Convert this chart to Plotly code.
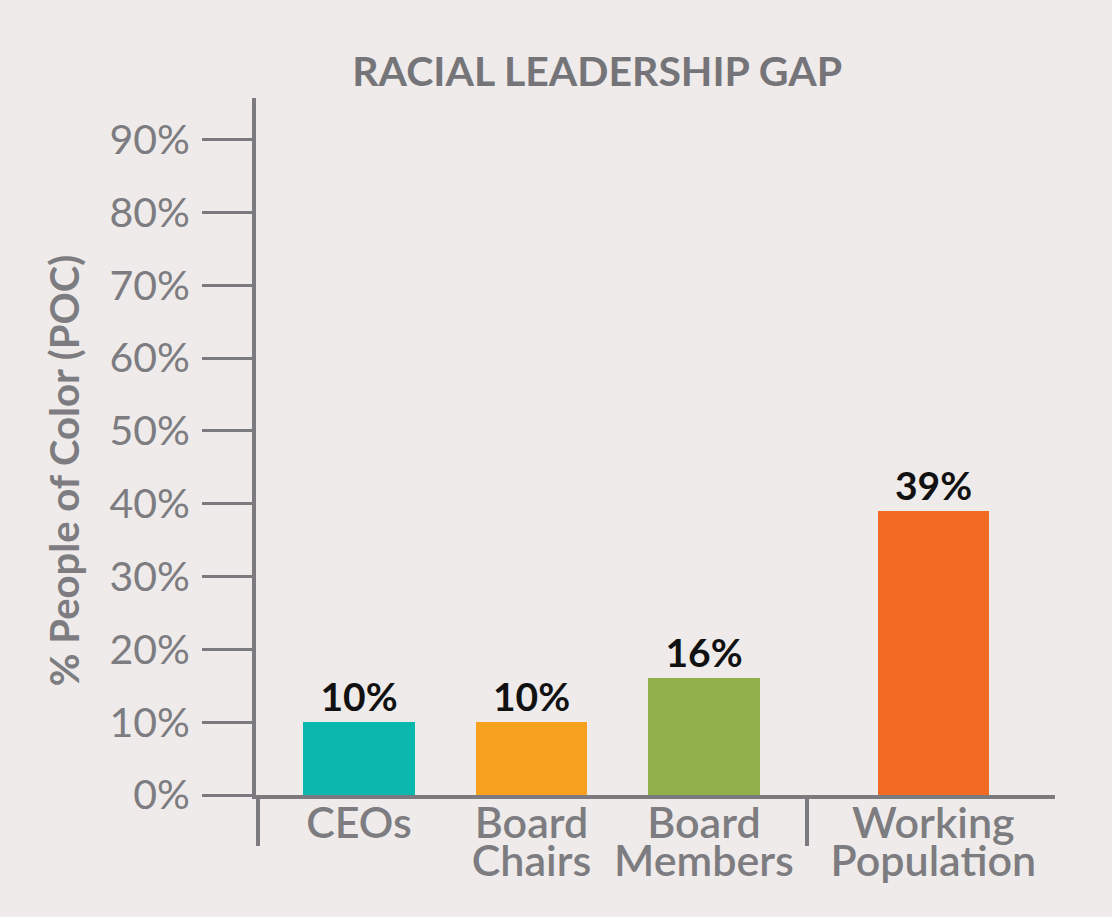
import plotly.graph_objects as go

# ---- data ----
categories = ["CEOs", "Board Chairs", "Board Members", "Working Population"]
values = [10, 10, 16, 39]
value_labels = ["10%", "10%", "16%", "39%"]
y_ticks = [0, 10, 20, 30, 40, 50, 60, 70, 80, 90]
y_tick_labels = [f"{v}%" for v in y_ticks]
y_title = "% People of Color (POC)"
chart_title = "RACIAL LEADERSHIP GAP"

# ---- layout helpers (positions / styles) ----
x_pos = [0, 1, 2, 3.33]
group_bounds = [-0.585, 2.6]
bar_colors = ["#0BB8AE", "#F8A11E", "#8FB04A", "#F26B22"]
line1 = [c.split(" ")[0] for c in categories]
line2 = [c.split(" ")[1] if " " in c else "" for c in categories]

BG = "#EEEBEA"
AX = "#7B7A7E"
TXT = "#7D7C80"
FONT = "Lato"
x_range = [-0.597, 4.035]

fig = go.Figure()
fig.add_trace(go.Bar(
    x=x_pos, y=values, width=0.645,
    marker=dict(color=bar_colors, line=dict(width=0)),
    text=value_labels, textposition="outside",
    textfont=dict(family=FONT, size=39, color="#111111", weight=700),
    cliponaxis=False, hoverinfo="skip",
))
# invisible anchors for overlay axes
fig.add_trace(go.Scatter(x=x_pos, y=values, mode="none", xaxis="x2", hoverinfo="skip", showlegend=False))
fig.add_trace(go.Scatter(x=group_bounds, y=[0, 0], mode="none", xaxis="x3", hoverinfo="skip", showlegend=False))

common_x = dict(range=x_range, showgrid=False, zeroline=False, fixedrange=True)

fig.update_layout(
    width=1112, height=917,
    paper_bgcolor=BG, plot_bgcolor=BG,
    margin=dict(l=256, r=57, t=98, b=122),
    showlegend=False,
    bargap=0,
    title=dict(text=chart_title, x=0.537, xanchor="center",
               y=0.922, yref="container", yanchor="middle",
               font=dict(family=FONT, size=41, color="#757478", weight=700)),
    xaxis=dict(**common_x, tickvals=x_pos, ticktext=line1, ticks="",
               showline=True, linecolor=AX, linewidth=4,
               tickfont=dict(family=FONT, size=43, color=TXT, weight=600),
               ticklabelstandoff=-13),
    xaxis2=dict(**common_x, overlaying="x", side="bottom", anchor="y",
                tickvals=x_pos, ticktext=line2, ticks="", showline=False,
                tickfont=dict(family=FONT, size=43, color=TXT, weight=600),
                ticklabelstandoff=37),
    xaxis3=dict(**common_x, overlaying="x", side="bottom", anchor="y",
                tickvals=group_bounds, ticks="outside", ticklen=50, tickwidth=4,
                tickcolor=AX, showticklabels=False, showline=False),
    yaxis=dict(range=[0, 95.7], tickvals=y_ticks, ticktext=y_tick_labels,
               showgrid=False, zeroline=False, fixedrange=True,
               showline=True, linecolor=AX, linewidth=4,
               ticks="outside", ticklen=50, tickwidth=3, tickcolor=AX,
               tickfont=dict(family=FONT, size=41, color=TXT, weight=400),
               ticklabelstandoff=4),
)

fig.add_annotation(
    text=y_title, textangle=-90, showarrow=False,
    xref="paper", yref="paper", x=-0.240, y=0.465,
    xanchor="center", yanchor="middle",
    font=dict(family=FONT, size=40, color=TXT, weight=700),
)

fig.write_html("out.html", config={"displayModeBar": False},
               post_script="document.body.style.margin='0';")
